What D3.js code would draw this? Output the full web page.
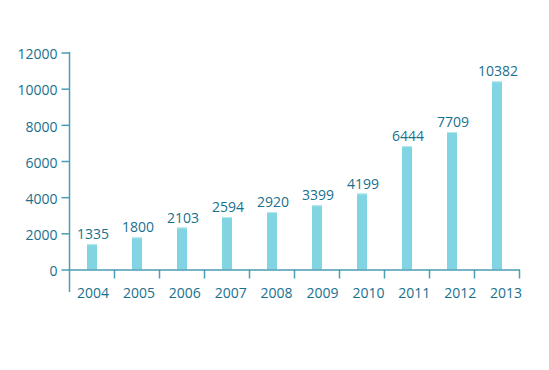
<!DOCTYPE html>
<html>
<head>
<meta charset="utf-8">
<script src="https://cdn.jsdelivr.net/npm/d3@7"></script>
<style>
  body { margin: 0; background: #fff; }
  text { font-family: "Open Sans", sans-serif; font-size: 14px; fill: #18708e; }
</style>
</head>
<body>
<svg id="chart" width="549" height="370"></svg>
<script>
// categories
const years = ['2004', '2005', '2006', '2007', '2008', '2009', '2010', '2011', '2012', '2013'];
// bar heights as drawn in the picture
const barValues = [1400, 1770, 2320, 2900, 3180, 3550, 4200, 6820, 7600, 10400];
// value labels printed above the bars
const valueLabels = ['1335', '1800', '2103', '2594', '2920', '3399', '4199', '6444', '7709', '10382'];
// y tick values
const yTicks = [0, 2000, 4000, 6000, 8000, 10000, 12000];

const axisColor = '#4a9db3';
const barColor = '#81d4e1';

const svg = d3.select('#chart');

const x = d3.scaleBand().domain(years).range([69.5, 519.5]);
const y = d3.scaleLinear().domain([0, 12000]).range([269.5, 52.5]);

// y axis
const yAxis = svg.append('g')
    .attr('transform', 'translate(69.5,0)')
    .call(d3.axisLeft(y).tickValues(yTicks).tickSize(8).tickPadding(4).tickFormat(d3.format('d')));
yAxis.select('.domain').remove();
yAxis.selectAll('line').attr('stroke', axisColor).attr('stroke-width', 1.5);
yAxis.selectAll('text').attr('dy', '0.45em');

svg.append('line')
    .attr('x1', 69.5).attr('x2', 69.5)
    .attr('y1', y(12000) - 0.5).attr('y2', 292)
    .attr('stroke', axisColor).attr('stroke-width', 1.5);

// bars
svg.append('g').selectAll('rect')
    .data(years)
    .join('rect')
    .attr('x', (d) => x(d) + x.bandwidth() / 2 - 5)
    .attr('y', (d, i) => y(barValues[i]))
    .attr('width', 10)
    .attr('height', (d, i) => y(0) - y(barValues[i]))
    .attr('fill', barColor);

// light top edge of each bar
svg.append('g').selectAll('rect')
    .data(years)
    .join('rect')
    .attr('x', (d) => x(d) + x.bandwidth() / 2 - 5)
    .attr('y', (d, i) => y(barValues[i]))
    .attr('width', 10)
    .attr('height', 1)
    .attr('fill', '#b6e8ef');

// value labels
svg.append('g').selectAll('text')
    .data(years)
    .join('text')
    .attr('x', (d) => x(d) + x.bandwidth() / 2 + 1)
    .attr('y', (d, i) => y(barValues[i]) - 5)
    .attr('text-anchor', 'middle')
    .text((d, i) => valueLabels[i]);

// x axis
const xAxis = svg.append('g')
    .attr('transform', 'translate(0,269.5)')
    .call(d3.axisBottom(x).tickSize(0).tickPadding(19));
xAxis.select('.domain').attr('stroke', axisColor).attr('stroke-width', 1.5);
xAxis.selectAll('text').attr('dx', (d, i) => 1 + i * 0.9);

xAxis.selectAll('.sep')
    .data(years)
    .join('line')
    .attr('class', 'sep')
    .attr('x1', (d) => x(d) + x.bandwidth())
    .attr('x2', (d) => x(d) + x.bandwidth())
    .attr('y1', 0)
    .attr('y2', 9)
    .attr('stroke', axisColor)
    .attr('stroke-width', 1.5);
</script>
</body>
</html>
